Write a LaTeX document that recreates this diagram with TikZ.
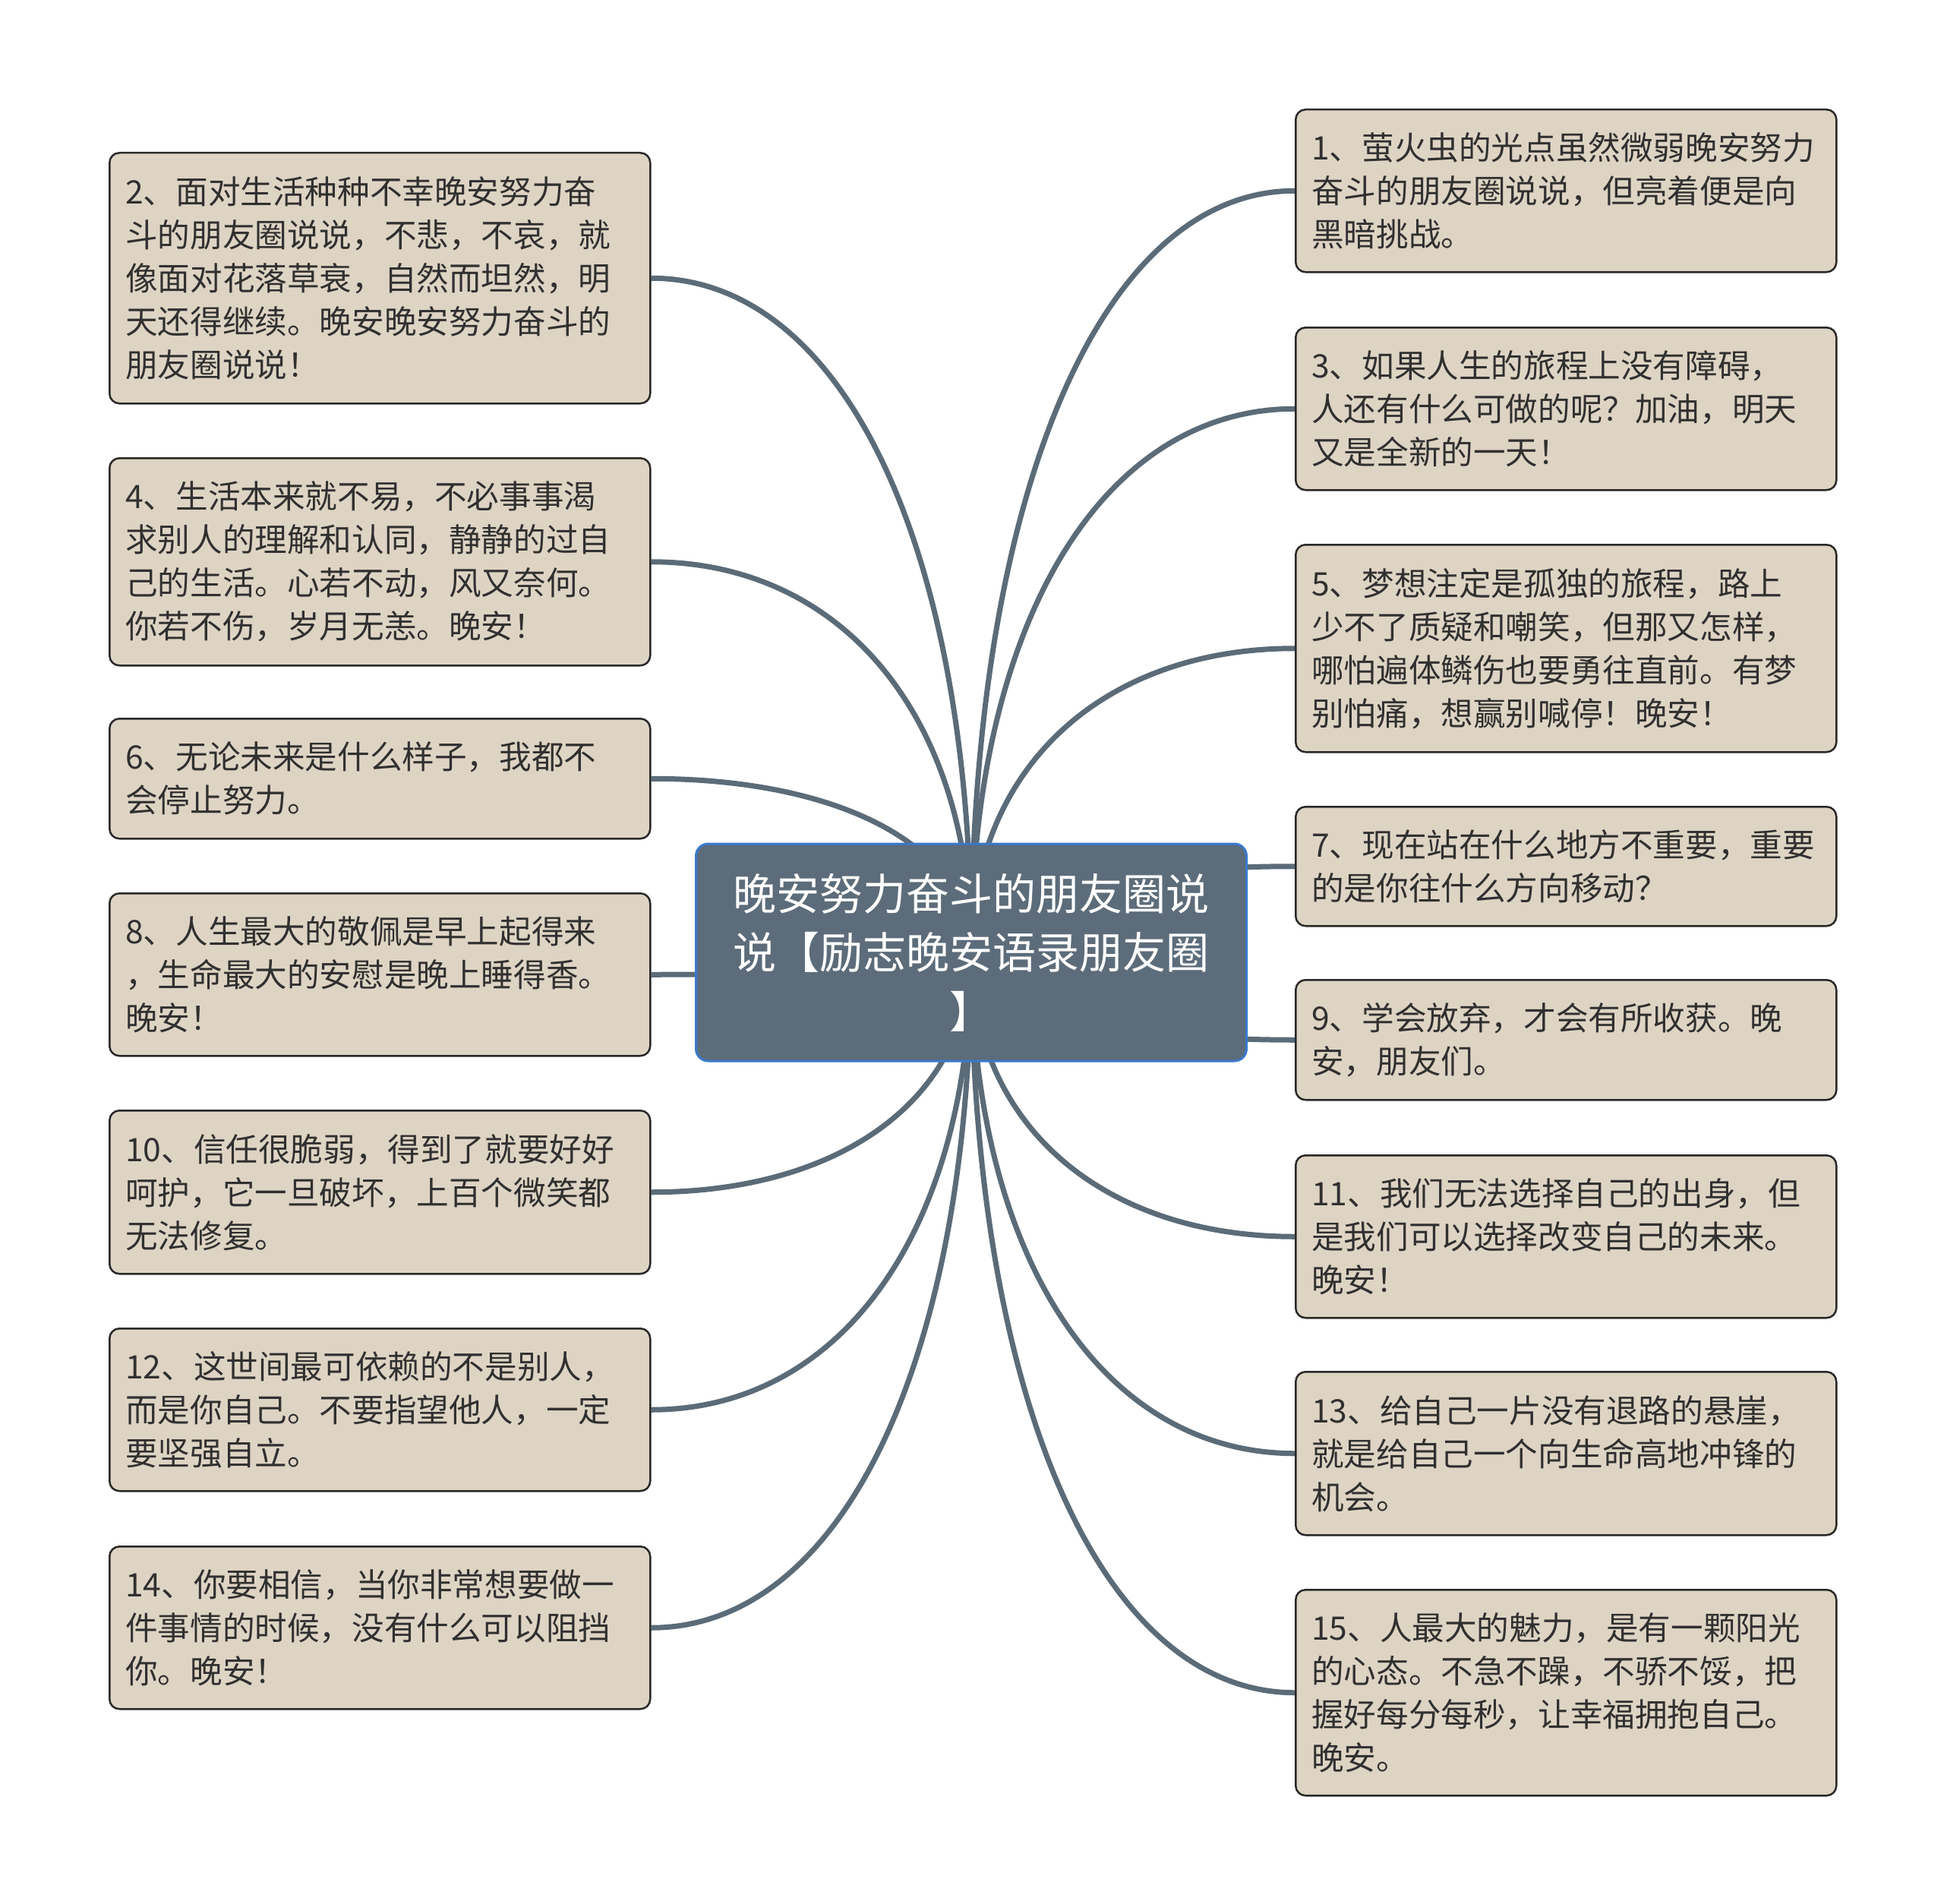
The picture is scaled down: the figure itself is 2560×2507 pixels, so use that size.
\documentclass[tikz,border=0pt]{standalone}
\usepackage{fontspec}
\setmainfont{Noto Sans CJK SC}
\usetikzlibrary{calc,backgrounds}
\definecolor{boxfill}{RGB}{222,212,195}
\definecolor{boxline}{RGB}{40,40,40}
\definecolor{txt}{RGB}{48,48,48}
\definecolor{rootfill}{RGB}{92,108,122}
\definecolor{rootline}{RGB}{58,121,204}
\definecolor{linkc}{RGB}{91,107,120}
\tikzset{
  leaf/.style={draw=boxline, line width=2.5pt, fill=boxfill, rounded corners=13pt,
    anchor=north west, text width=670pt, inner xsep=21pt, inner ysep=0pt,
    align=left, text=txt, font=\fontsize{42.6}{57}\selectfont},
  rootbox/.style={draw=rootline, line width=3pt, fill=rootfill, rounded corners=16pt,
    minimum width=725pt, minimum height=286pt, inner sep=0pt, align=center,
    text=white, font=\fontsize{57}{77.6}\selectfont},
  link/.style={draw=linkc, line width=7pt}
}
\newcommand\mmlink[1]{\draw[link] (root.center) .. controls ($(root.center)!0.6!(root.center|-#1)$) and ($(#1)!0.6!(root.center|-#1)$) .. (#1);}
\begin{document}
\begin{tikzpicture}[x=1pt,y=-1pt]
\useasboundingbox (0,0) rectangle (2560,2507);
\node[rootbox] (root) at (1279,1254) {晚安努力奋斗的朋友圈说\\说【励志晚安语录朋友圈\\】};
% left
\node[leaf, minimum height=330pt] (L2) at (143,200) {2、面对生活种种不幸晚安努力奋\\斗的朋友圈说说，不悲，不哀，就\\像面对花落草衰，自然而坦然，明\\天还得继续。晚安晚安努力奋斗的\\朋友圈说说！};
\node[leaf, minimum height=273pt] (L4) at (143,602) {4、生活本来就不易，不必事事渴\\求别人的理解和认同，静静的过自\\己的生活。心若不动，风又奈何。\\你若不伤，岁月无恙。晚安！};
\node[leaf, minimum height=158pt] (L6) at (143,945) {6、无论未来是什么样子，我都不\\会停止努力。};
\node[leaf, minimum height=214pt] (L8) at (143,1175) {8、人生最大的敬佩是早上起得来\\，生命最大的安慰是晚上睡得香。\\晚安！};
\node[leaf, minimum height=215pt] (L10) at (143,1461) {10、信任很脆弱，得到了就要好好\\呵护，它一旦破坏，上百个微笑都\\无法修复。};
\node[leaf, minimum height=214pt] (L12) at (143,1748) {12、这世间最可依赖的不是别人，\\而是你自己。不要指望他人，一定\\要坚强自立。};
\node[leaf, minimum height=214pt] (L14) at (143,2035) {14、你要相信，当你非常想要做一\\件事情的时候，没有什么可以阻挡\\你。晚安！};
% right
\node[leaf, minimum height=214pt] (R1) at (1705,143) {1、萤火虫的光点虽然微弱晚安努力\\奋斗的朋友圈说说，但亮着便是向\\黑暗挑战。};
\node[leaf, minimum height=214pt] (R3) at (1705,430) {3、如果人生的旅程上没有障碍，\\人还有什么可做的呢？加油，明天\\又是全新的一天！};
\node[leaf, minimum height=273pt] (R5) at (1705,716) {5、梦想注定是孤独的旅程，路上\\少不了质疑和嘲笑，但那又怎样，\\哪怕遍体鳞伤也要勇往直前。有梦\\别怕痛，想赢别喊停！晚安！};
\node[leaf, minimum height=157pt] (R7) at (1705,1061) {7、现在站在什么地方不重要，重要\\的是你往什么方向移动？};
\node[leaf, minimum height=158pt] (R9) at (1705,1289) {9、学会放弃，才会有所收获。晚\\安，朋友们。};
\node[leaf, minimum height=214pt] (R11) at (1705,1520) {11、我们无法选择自己的出身，但\\是我们可以选择改变自己的未来。\\晚安！};
\node[leaf, minimum height=215pt] (R13) at (1705,1805) {13、给自己一片没有退路的悬崖，\\就是给自己一个向生命高地冲锋的\\机会。};
\node[leaf, minimum height=271pt] (R15) at (1705,2092) {15、人最大的魅力，是有一颗阳光\\的心态。不急不躁，不骄不馁，把\\握好每分每秒，让幸福拥抱自己。\\晚安。};
\begin{pgfonlayer}{background}
\fill[white] (0,0) rectangle (2560,2507);
\mmlink{L2.east}
\mmlink{L4.east}
\mmlink{L6.east}
\mmlink{L8.east}
\mmlink{L10.east}
\mmlink{L12.east}
\mmlink{L14.east}
\mmlink{R1.west}
\mmlink{R3.west}
\mmlink{R5.west}
\mmlink{R7.west}
\mmlink{R9.west}
\mmlink{R11.west}
\mmlink{R13.west}
\mmlink{R15.west}
\end{pgfonlayer}
\end{tikzpicture}
\end{document}
